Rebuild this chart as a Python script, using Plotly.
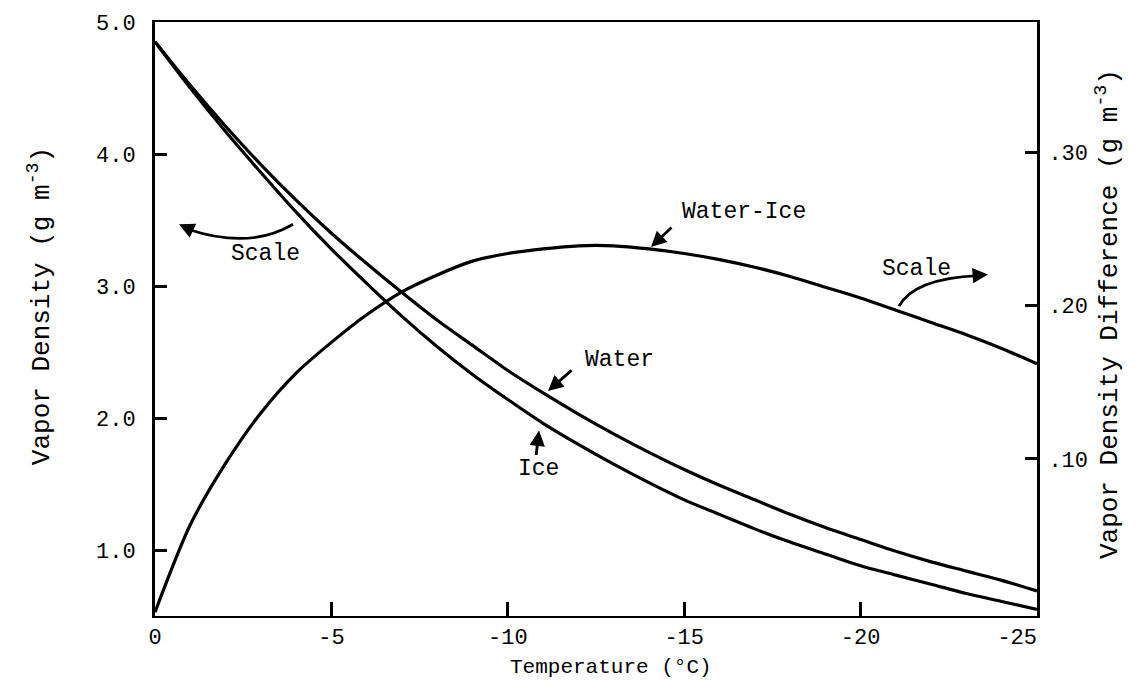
import plotly.graph_objects as go

# Temperature (deg C) and saturation vapour densities (g m^-3)
temperature = [0, -1, -2, -3, -4, -5, -6, -7, -8, -9, -10, -11, -12,
               -13, -14, -15, -16, -17, -18, -19, -20, -21, -22, -23, -24, -25]
water = [4.85, 4.52, 4.21, 3.92, 3.65, 3.40, 3.17, 2.95, 2.74, 2.55, 2.36, 2.19, 2.03,
         1.88, 1.74, 1.61, 1.49, 1.38, 1.27, 1.17, 1.08, 0.99, 0.91, 0.84, 0.77, 0.69]
ice = [4.85, 4.50, 4.17, 3.86, 3.56, 3.28, 3.02, 2.77, 2.54, 2.33, 2.14, 1.96, 1.80,
       1.65, 1.51, 1.38, 1.27, 1.16, 1.06, 0.97, 0.88, 0.81, 0.74, 0.67, 0.61, 0.55]
water_minus_ice = [0.000, 0.057, 0.097, 0.130, 0.156, 0.176, 0.194, 0.209, 0.220, 0.229,
                   0.234, 0.237, 0.239, 0.239, 0.237, 0.234, 0.230, 0.225, 0.219, 0.212,
                   0.205, 0.197, 0.189, 0.181, 0.172, 0.162]

x_ticks = [0, -5, -10, -15, -20, -25]
x_tick_text = ["0", "-5", "-10", "-15", "-20", "-25\u00a0\u00a0\u00a0"]
y_ticks = [1, 2, 3, 4, 5]
y_tick_text = ["1.0", "2.0", "3.0", "4.0", "5.0"]
y2_ticks = [0.1, 0.2, 0.3]
y2_tick_text = [".10", ".20", ".30"]

FONT = "Courier New, Liberation Mono, monospace"
W, H = 1137, 692
L, R, T, B = 155, 100, 14, 76
PW, PH = W - L - R, H - T - B


def px(x):
    return (x - L) / PW


def py(y):
    return (H - B - y) / PH


line = dict(color="black", width=3.2, shape="spline", smoothing=0.8)

fig = go.Figure()
fig.add_trace(go.Scatter(x=temperature, y=water, mode="lines", line=line, name="Water"))
fig.add_trace(go.Scatter(x=temperature, y=ice, mode="lines", line=line, name="Ice"))
fig.add_trace(go.Scatter(x=temperature, y=water_minus_ice, mode="lines", line=line,
                         name="Water-Ice", yaxis="y2"))

annotations = []


def label(text, x, y, size=23, **kw):
    annotations.append(dict(text=text, x=px(x), y=py(y), xref="paper", yref="paper",
                            xanchor="center", yanchor="middle", showarrow=False,
                            font=dict(family=FONT, size=size, color="black"), **kw))


def arrow(x0, y0, x1, y1, width=2.8):
    # arrow drawn from (x0, y0) to the head at (x1, y1), pixel positions
    annotations.append(dict(text="", x=px(x1), y=py(y1), xref="paper", yref="paper",
                            ax=x0 - x1, ay=y0 - y1, axref="pixel", ayref="pixel",
                            showarrow=True, arrowhead=2, arrowsize=1.1,
                            arrowwidth=width, arrowcolor="black"))


label("Scale", 265, 249)
label("Scale", 916, 264)
label("Water-Ice", 744, 207)
label("Water", 619, 357)
label("Ice", 538, 467)

arrow(673, 221, 651, 242)
arrow(573, 366, 548, 388)
arrow(536, 454, 539, 428)
arrow(192, 225, 179, 219)
arrow(974, 271, 988, 270)

# axis titles
label("Temperature (°C)", 611, 668, size=21)
label("Vapor Density (g m<sup>-3</sup>)", 40, 302, size=26, textangle=-90)
label("Vapor Density Difference (g m<sup>-3</sup>)", 1108, 310, size=26, textangle=-90)

# curved shafts of the two "Scale" arrows
shapes = [
    dict(type="path", xref="paper", yref="paper",
         path=f"M {px(293)},{py(219)} Q {px(250)},{py(245)} {px(188)},{py(224)}",
         line=dict(color="black", width=2.8)),
    dict(type="path", xref="paper", yref="paper",
         path=f"M {px(899)},{py(302)} Q {px(914)},{py(274)} {px(978)},{py(271)}",
         line=dict(color="black", width=2.8)),
]

tickfont = dict(family=FONT, size=22, color="black")

fig.update_layout(
    width=W, height=H,
    margin=dict(l=L, r=R, t=T, b=B, pad=0),
    paper_bgcolor="white", plot_bgcolor="white",
    showlegend=False,
    annotations=annotations,
    shapes=shapes,
    xaxis=dict(range=[0, -25], tickvals=x_ticks, ticktext=x_tick_text,
               ticks="inside", ticklen=14, tickwidth=2.5, tickcolor="black",
               showline=True, linewidth=2, linecolor="black", mirror=True,
               showgrid=False, zeroline=False, tickfont=tickfont,
               ticklabelstandoff=0),
    yaxis=dict(range=[0.5, 5.0], tickvals=y_ticks, ticktext=y_tick_text,
               ticks="inside", ticklen=12, tickwidth=3, tickcolor="black",
               showline=True, linewidth=3, linecolor="black",
               showgrid=False, zeroline=False, tickfont=tickfont,
               ticklabelstandoff=12),
    yaxis2=dict(range=[-0.0025, 0.385], tickvals=y2_ticks, ticktext=y2_tick_text,
                overlaying="y", side="right",
                ticks="inside", ticklen=12, tickwidth=3, tickcolor="black",
                showline=True, linewidth=3, linecolor="black",
                showgrid=False, zeroline=False, tickfont=tickfont,
                ticklabelstandoff=4),
)

fig.write_html("out.html")
